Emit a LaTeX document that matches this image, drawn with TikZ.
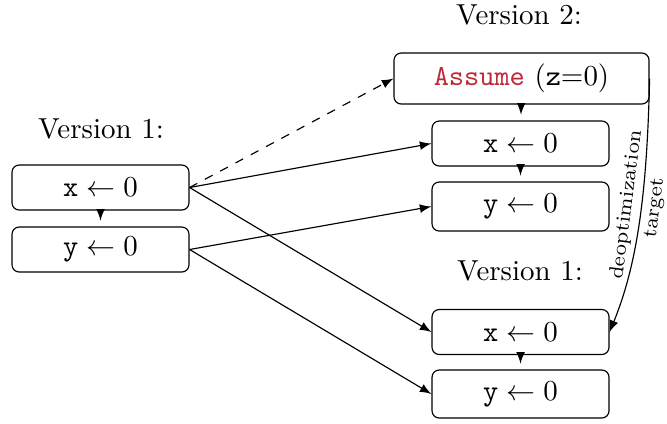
\documentclass[tikz,border=0pt]{standalone}
\usetikzlibrary{arrows}
\definecolor{kwred}{RGB}{190,40,55}
\begin{document}
\begin{tikzpicture}[x=0.3457pt,y=-0.3457pt,
  stmt/.style={draw,rounded corners=2.5pt,minimum width=177*0.3457pt,minimum height=45*0.3457pt,inner sep=0pt},
  seq/.style={-latex,shorten >=2pt},
  flow/.style={-latex},
  lbl/.style={inner sep=0pt},
  edgelbl/.style={sloped,font=\scriptsize,inner sep=1.8pt}]
\useasboundingbox (0,0) rectangle (667,423);
% captions
\node[lbl] (v2) at (519,15) {Version 2:};
\node[lbl] (v1l) at (101,129) {Version 1:};
\node[lbl] (v1r) at (520,271) {Version 1:};
% original version
\node[stmt] (lx) at (100.5,187.5) {$\mathtt{x} \leftarrow 0$};
\node[stmt] (ly) at (100.5,249.5) {$\mathtt{y} \leftarrow 0$};
% specialised version
\node[stmt,minimum width=255*0.3457pt,minimum height=51*0.3457pt] (as) at (521.5,78.5) {\texttt{\color{kwred}Assume} (\texttt{z}=0)};
\node[stmt] (ax) at (520.5,143.5) {$\mathtt{x} \leftarrow 0$};
\node[stmt,minimum height=49*0.3457pt] (ay) at (520.5,206.5) {$\mathtt{y} \leftarrow 0$};
% deoptimization target
\node[stmt] (bx) at (520.5,332) {$\mathtt{x} \leftarrow 0$};
\node[stmt,minimum height=48*0.3457pt] (by) at (520.5,394) {$\mathtt{y} \leftarrow 0$};
% sequencing inside each version
\draw[seq] (lx) -- (ly);
\draw[seq] (as) -- (ax);
\draw[seq] (ax) -- (ay);
\draw[seq] (bx) -- (by);
% mappings between versions
\draw[flow,dashed] (lx.east) -- (as.west);
\draw[flow] (lx.east) -- (ax.west);
\draw[flow] (lx.east) -- (bx.west);
\draw[flow] (ly.east) -- (ay.west);
\draw[flow] (ly.east) -- (by.west);
% deoptimization edge
\draw[flow] (as.east) .. controls (647,195) and (637,265) .. (bx.east)
  node[pos=0.43,edgelbl,above] (dl) {deoptimization}
  node[pos=0.43,edgelbl,below] (tl) {target};
\end{tikzpicture}
\end{document}
